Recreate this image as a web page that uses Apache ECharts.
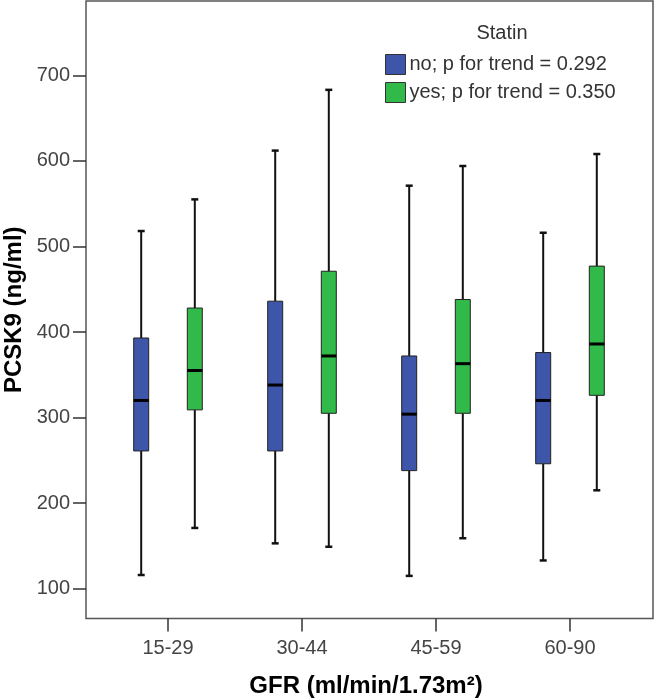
<!DOCTYPE html>
<html>
<head>
<meta charset="utf-8">
<script src="https://cdn.jsdelivr.net/npm/echarts@6/dist/echarts.min.js"></script>
<style>html,body{margin:0;padding:0;background:#fff;}#c{width:656px;height:700px;}</style>
</head>
<body>
<div id="c"></div>
<script>
var categories = ['15-29', '30-44', '45-59', '60-90'];
var noMin    = [116, 153, 115, 133];
var noQ1     = [261, 261, 238, 246];
var noMedian = [320, 338, 304, 320];
var noQ3     = [393, 436, 372, 376];
var noMax    = [518, 612, 571, 516];
var yesMin    = [171, 149, 159, 215];
var yesQ1     = [309, 305, 305, 326];
var yesMedian = [355, 372, 363, 386];
var yesQ3     = [428, 471, 438, 477];
var yesMax    = [555, 683, 594, 608];
var seriesNames = ['no; p for trend = 0.292', 'yes; p for trend = 0.350'];
var legendTitle = 'Statin';
var yTicks = [100, 200, 300, 400, 500, 600, 700];

var FONT = '"Liberation Sans", Arial, sans-serif';
var BLUE = '#3e56aa';
var GREEN = '#31b94a';

function build(mins, q1s, meds, q3s, maxs) {
  return categories.map(function (c, i) { return [i, mins[i], q1s[i], meds[i], q3s[i], maxs[i]]; });
}

function makeRender(sign, color) {
  return function (params, api) {
    var ci = api.value(0);
    var band = api.size([1, 0])[0];
    var off = sign * band * 0.2;
    var pMin = api.coord([ci, api.value(1)]);
    var pQ1 = api.coord([ci, api.value(2)]);
    var pMed = api.coord([ci, api.value(3)]);
    var pQ3 = api.coord([ci, api.value(4)]);
    var pMax = api.coord([ci, api.value(5)]);
    var x = pMin[0] + off;
    var hw = 7.5, cw = 3.5;
    var ls = { stroke: '#111', lineWidth: 2 };
    return {
      type: 'group',
      children: [
        { type: 'line', shape: { x1: x, y1: pMax[1], x2: x, y2: pQ3[1] }, style: ls },
        { type: 'line', shape: { x1: x, y1: pQ1[1], x2: x, y2: pMin[1] }, style: ls },
        { type: 'line', shape: { x1: x - cw, y1: pMax[1], x2: x + cw, y2: pMax[1] }, style: { stroke: '#111', lineWidth: 2.5 } },
        { type: 'line', shape: { x1: x - cw, y1: pMin[1], x2: x + cw, y2: pMin[1] }, style: { stroke: '#111', lineWidth: 2.5 } },
        { type: 'rect', shape: { x: x - hw, y: pQ3[1], width: hw * 2, height: pQ1[1] - pQ3[1] }, style: { fill: color, stroke: '#222', lineWidth: 1 } },
        { type: 'line', shape: { x1: x - hw, y1: pMed[1], x2: x + hw, y2: pMed[1] }, style: { stroke: '#000', lineWidth: 3 } }
      ]
    };
  };
}

var chart = echarts.init(document.getElementById('c'), null, { renderer: 'canvas' });
chart.setOption({
  animation: false,
  backgroundColor: '#fff',
  textStyle: { fontFamily: FONT },
  title: {
    text: legendTitle, left: 502, top: 23, textAlign: 'center', padding: 0,
    textStyle: { fontFamily: FONT, fontSize: 20, fontWeight: 'normal', color: '#333' }
  },
  legend: {
    orient: 'vertical', left: 385, top: 54, padding: 0,
    itemWidth: 20, itemHeight: 20, itemGap: 7, icon: 'rect',
    itemStyle: { borderColor: '#333', borderWidth: 1 },
    textStyle: { fontFamily: FONT, fontSize: 20, color: '#333', padding: [0, 0, 0, -1] },
    data: seriesNames
  },
  grid: [
    { left: 86, top: 1, right: 3, bottom: 81.5, show: true, borderColor: '#555', borderWidth: 1.5, backgroundColor: 'transparent', containLabel: false, outerBoundsMode: 'none' },
    { left: 101, width: 536, top: 75.3, height: 513.4, containLabel: false, outerBoundsMode: 'none' }
  ],
  xAxis: [
    { gridIndex: 0, type: 'value', show: false, min: 0, max: 1 },
    {
      gridIndex: 1, type: 'category', data: categories, offset: 29.8,
      axisLine: { show: false },
      axisTick: { show: true, alignWithLabel: true, length: 13, lineStyle: { color: '#333', width: 1.5 } },
      axisLabel: { fontFamily: FONT, fontSize: 20, color: '#444', margin: 19.5 },
      splitLine: { show: false },
      name: 'GFR (ml/min/1.73m²)', nameLocation: 'middle', nameGap: 56,
      nameTextStyle: { fontFamily: FONT, fontSize: 24, fontWeight: 'bold', color: '#000', padding: [0, 6, 0, 0] }
    }
  ],
  yAxis: [
    {
      gridIndex: 0, type: 'value', min: 0, max: 1,
      axisLine: { show: false }, axisTick: { show: false }, axisLabel: { show: false }, splitLine: { show: false },
      name: 'PCSK9 (ng/ml)', nameLocation: 'middle', nameGap: 60, nameRotate: 90,
      nameTextStyle: { fontFamily: FONT, fontSize: 24, fontWeight: 'bold', color: '#000' }
    },
    {
      gridIndex: 1, type: 'value', min: yTicks[0], max: yTicks[yTicks.length - 1], interval: 100, offset: 15,
      axisLine: { show: false },
      axisTick: { show: true, length: 13, lineStyle: { color: '#333', width: 1.5 } },
      axisLabel: { fontFamily: FONT, fontSize: 20, color: '#444', margin: 16 },
      splitLine: { show: false }
    }
  ],
  series: [
    {
      name: seriesNames[0], type: 'custom', xAxisIndex: 1, yAxisIndex: 1,
      itemStyle: { color: BLUE },
      encode: { x: 0, y: [1, 2, 3, 4, 5] },
      renderItem: makeRender(-1, BLUE),
      data: build(noMin, noQ1, noMedian, noQ3, noMax)
    },
    {
      name: seriesNames[1], type: 'custom', xAxisIndex: 1, yAxisIndex: 1,
      itemStyle: { color: GREEN },
      encode: { x: 0, y: [1, 2, 3, 4, 5] },
      renderItem: makeRender(1, GREEN),
      data: build(yesMin, yesQ1, yesMedian, yesQ3, yesMax)
    }
  ]
});
</script>
</body>
</html>
